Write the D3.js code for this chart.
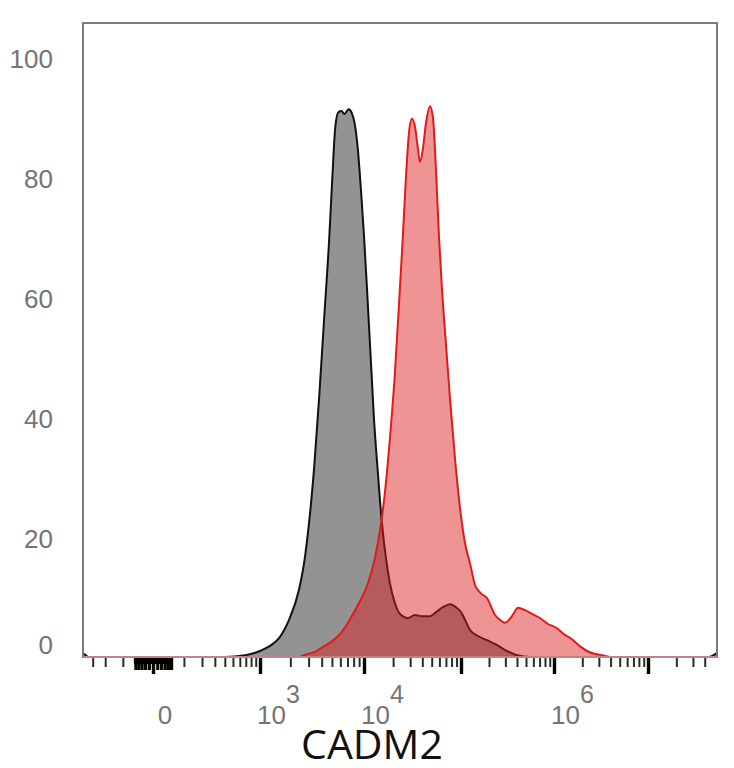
<!DOCTYPE html>
<html>
<head>
<meta charset="utf-8">
<script src="https://cdn.jsdelivr.net/npm/d3@7/dist/d3.min.js"></script>
<style>
  html, body { margin: 0; padding: 0; background: #fff; }
  svg { display: block; }
</style>
</head>
<body>
<svg id="chart" width="734" height="768"></svg>
<script>
// ---- Data (CADM2 fluorescence, % of max) ----
const grayX = [-400, -370, -340, 0, 400, 690, 1000, 1248, 1557, 1942, 2424, 2712, 3027, 3383, 3777, 4217, 4710, 5035, 5380, 5754, 6138, 6561, 7173, 7674, 8185, 8750, 9354, 10000, 10740, 11530, 12680, 13940, 15330, 16860, 18530, 20870, 23500, 28420, 33590, 39650, 47900, 56590, 65200, 77030, 88780, 100000, 110400, 125000, 152300, 190400, 244000, 312600, 400000, 552000, 1e7, 4.4e7, 5.4e7];
const grayY = [0.6, 0.3, 0, 0, 0, 0.3, 1.0, 1.8, 3.2, 6.2, 11.2, 15.6, 22.3, 31.4, 43.1, 56.4, 69.7, 79.7, 88.4, 90.8, 91.0, 90.5, 91.3, 90.7, 88.9, 84.7, 78.0, 70.2, 61.4, 52.2, 39.8, 30.6, 22.3, 16.5, 12.3, 9.0, 7.2, 6.5, 7.0, 6.8, 6.8, 7.6, 8.3, 8.8, 8.3, 7.5, 6.2, 4.5, 3.5, 2.8, 2.0, 1.0, 0.3, 0, 0, 0, 0.7];

const redX = [-400, 0, 1000, 2424, 2712, 3383, 4217, 5495, 6561, 7674, 9160, 11000, 12980, 14630, 16440, 18530, 20870, 23500, 25230, 27090, 29090, 31240, 33590, 36060, 37780, 40550, 43550, 47900, 51400, 55210, 59300, 63700, 70000, 77030, 86700, 97700, 110400, 125000, 141600, 164100, 190400, 232500, 262300, 297200, 353200, 410000, 487900, 579700, 706800, 861500, 1076000, 1277000, 1479000, 1891000, 2245000, 2731000, 3243000, 4000000, 5.4e7];
const redY = [0, 0, 0, 0, 0.3, 0.8, 1.8, 3.2, 4.8, 6.8, 9.3, 12.3, 16.5, 21.1, 27.3, 36.4, 47.3, 61.4, 70.2, 79.7, 87.2, 89.7, 88.4, 84.7, 82.5, 84.7, 88.9, 91.8, 90.0, 81.4, 70.2, 61.4, 52.2, 43.1, 33.1, 24.8, 19.0, 15.6, 12.0, 10.6, 9.8, 7.0, 6.2, 5.7, 6.8, 8.2, 7.8, 7.2, 6.5, 5.5, 4.8, 3.8, 3.2, 1.8, 1.0, 0.5, 0.3, 0, 0];

const majorTicks = [0, 1e3, 1e4, 1e5, 1e6, 1e7];
const linearTicks = [-50, -40, -30, -20, -10, 10, 20, 30, 40, 50];
const minorTicks = [
  -300, -200, -100,
  100, 200, 300, 400, 500, 600, 700, 800, 900,
  2e3, 3e3, 4e3, 5e3, 6e3, 7e3, 8e3, 9e3,
  2e4, 3e4, 4e4, 5e4, 6e4, 7e4, 8e4, 9e4,
  2e5, 3e5, 4e5, 5e5, 6e5, 7e5, 8e5, 9e5,
  2e6, 3e6, 4e6, 5e6, 6e6, 7e6, 8e6, 9e6,
  2e7, 3e7, 4e7
];
const xLabels = [
  { v: 0, base: "0", exp: "" },
  { v: 1e3, base: "10", exp: "3" },
  { v: 1e4, base: "10", exp: "4" },
  { v: 1e6, base: "10", exp: "6" }
];
const yTicks = [0, 20, 40, 60, 80, 100];
const xTitle = "CADM2";

// ---- Layout ----
const plot = { left: 83, top: 23, right: 717, bottom: 657 };
const svg = d3.select("#chart");

// biexponential-like axis: symlog, piecewise across decades
const x = d3.scaleSymlog().constant(100)
  .domain([-400, 0, 1e3, 1e4, 1e5, 1e6, 1e7, 5.4e7])
  .range([83, 153, 260, 364, 461, 554, 648, 717]);
const y = d3.scaleLinear().domain([0, 100]).range([657, 57]);

svg.append("defs").append("clipPath").attr("id", "clip")
  .append("rect")
  .attr("x", plot.left).attr("y", plot.top)
  .attr("width", plot.right - plot.left).attr("height", plot.bottom - plot.top);

const gray = grayX.map((v, i) => [v, grayY[i]]);
const red = redX.map((v, i) => [v, redY[i]]);

const area = d3.area().x(d => x(d[0])).y0(y(0)).y1(d => y(d[1])).curve(d3.curveMonotoneX);
const line = d3.line().x(d => x(d[0])).y(d => y(d[1])).curve(d3.curveMonotoneX);

const g = svg.append("g").attr("clip-path", "url(#clip)");
g.append("path").datum(gray).attr("d", area).attr("fill", "#939393");
g.append("path").datum(gray).attr("d", line).attr("fill", "none").attr("stroke", "#111").attr("stroke-width", 2);
g.append("path").datum(red).attr("d", area).attr("fill", "rgb(222,32,32)").attr("fill-opacity", 0.48);
g.append("path").datum(red).attr("d", line).attr("fill", "none").attr("stroke", "#e01b1b").attr("stroke-width", 2);

// frame
svg.append("rect")
  .attr("x", plot.left).attr("y", plot.top)
  .attr("width", plot.right - plot.left).attr("height", plot.bottom - plot.top)
  .attr("fill", "none").attr("stroke", "#7a7a7a").attr("stroke-width", 2);
// red baseline over frame bottom
svg.append("line")
  .attr("x1", plot.left).attr("x2", plot.right).attr("y1", y(0)).attr("y2", y(0))
  .attr("stroke", "#d98a8a").attr("stroke-width", 1.5);

// x ticks
function tickGroup(values, size, color, width) {
  const ax = d3.axisBottom(x).tickValues(values).tickSize(size).tickFormat("");
  const sel = svg.append("g").attr("transform", `translate(0,${plot.bottom + 1})`).call(ax);
  sel.select(".domain").remove();
  sel.selectAll(".tick line").attr("stroke", color).attr("stroke-width", width);
  return sel;
}
tickGroup(minorTicks, 9, "#2a2a2a", 2);
tickGroup(linearTicks, 12, "#000", 3.2);
// solid band joining the dense linear-region ticks
svg.append("line")
  .attr("x1", x(-50) - 1.5).attr("x2", x(50) + 1.5)
  .attr("y1", plot.bottom + 4).attr("y2", plot.bottom + 4)
  .attr("stroke", "#000").attr("stroke-width", 6);
tickGroup(majorTicks, 16, "#000", 3.4);

// x labels
const xl = svg.append("g")
  .attr("font-family", "'Liberation Sans', Arial, sans-serif")
  .attr("font-size", 26).attr("fill", "#747474");
xLabels.forEach(d => {
  if (d.exp === "") {
    xl.append("text").attr("x", x(d.v) + 12).attr("y", 724)
      .attr("text-anchor", "middle").text(d.base);
  } else {
    const t = xl.append("text").attr("x", x(d.v) - 3).attr("y", 724).attr("text-anchor", "start");
    t.append("tspan").text(d.base);
    t.append("tspan").attr("dy", -21).attr("font-size", 25).text(d.exp);
  }
});

// y labels
svg.append("g")
  .attr("font-family", "'Liberation Sans', Arial, sans-serif")
  .attr("font-size", 26).attr("fill", "#747474")
  .selectAll("text").data(yTicks).join("text")
  .attr("x", 53).attr("text-anchor", "end")
  .attr("y", d => d === 0 ? y(d) - 3 : y(d) + 11)
  .text(d => d);

// axis title
svg.append("text")
  .attr("x", 372).attr("y", 759).attr("text-anchor", "middle")
  .attr("font-family", "'Open Sans', 'Noto Sans', sans-serif")
  .attr("font-size", 41).attr("fill", "#111")
  .text(xTitle);
</script>
</body>
</html>
